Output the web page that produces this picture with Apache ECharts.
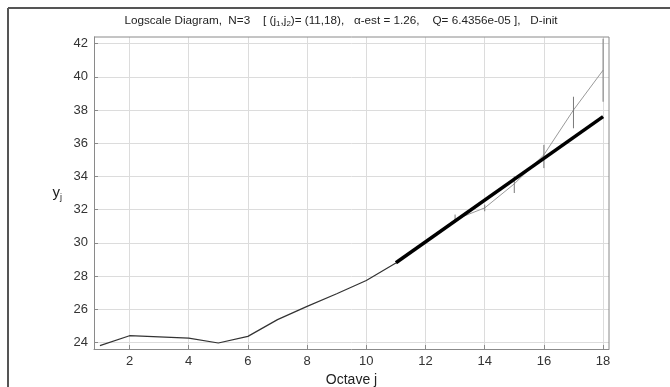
<!DOCTYPE html>
<html><head><meta charset="utf-8">
<script src="https://cdn.jsdelivr.net/npm/echarts@6/dist/echarts.min.js"></script>
<style>html,body{margin:0;padding:0;background:#fff}#c{width:670px;height:387px}</style>
</head><body><div id="c"></div>
<script>
var octaves = [1,2,3,4,5,6,7,8,9,10,11,12,13,14,15,16,17,18];
var yj = [23.8,24.4,24.33,24.26,23.96,24.36,25.37,26.17,26.93,27.73,28.78,30.1,31.4,32.1,33.55,35.3,38.0,40.4];
var errLow = [null,null,null,null,null,null,null,null,null,null,null,null,31.2,31.9,33.0,34.5,36.9,38.5];
var errHigh = [null,null,null,null,null,null,null,null,null,null,null,null,31.7,32.3,34.0,35.9,38.8,42.3];
var fitJ = [11,18];
var fitY = [28.8,37.6];
var xTicks = [2,4,6,8,10,12,14,16,18];
var yTicks = [24,26,28,30,32,34,36,38,40,42];

var darkPart = [], lightPart = [], errData = [];
for (var i=0;i<octaves.length;i++){
  if (octaves[i] <= 11) darkPart.push([octaves[i], yj[i]]);
  if (octaves[i] >= 11) lightPart.push([octaves[i], yj[i]]);
  if (errLow[i] != null) errData.push([octaves[i], errLow[i], errHigh[i]]);
}
var fitData = fitJ.map(function(j,k){return [j, fitY[k]];});

var chart = echarts.init(document.getElementById('c'));
var axisCommon = {
  axisLine:{show:true,onZero:false,lineStyle:{color:'#8a8a8a',width:1}},
  axisTick:{show:true,inside:true,length:4,lineStyle:{color:'#8a8a8a'}},
  splitLine:{show:true,lineStyle:{color:'#dcdcdc',width:1}},
  axisLabel:{color:'#333',fontFamily:'Liberation Sans, Arial',fontSize:13}
};
chart.setOption({
  animation:false,
  backgroundColor:'#fff',
  title:{
    text:'Logscale Diagram,  N=3    [ (j{s|1},j{s|2})= (11,18),   α-est = 1.26,    Q= 6.4356e-05 ],   D-init',
    left:336, top:9, textAlign:'center',
    textStyle:{fontFamily:'Liberation Sans, Arial',fontSize:11.7,fontWeight:'normal',color:'#222',
      rich:{s:{fontSize:8,verticalAlign:'bottom',padding:[6,0,0,0],color:'#222',fontFamily:'Liberation Sans, Arial'}}}
  },
  grid:{left:94,right:61,top:37,bottom:38,containLabel:false,outerBoundsMode:'none'},
  xAxis:Object.assign({}, axisCommon, {
    type:'value', min:0.8, max:18.2,
    name:'Octave j', nameLocation:'middle', nameGap:21,
    nameTextStyle:{fontFamily:'Liberation Sans, Arial',fontSize:14,color:'#222'},
    axisTick:Object.assign({}, axisCommon.axisTick, {customValues:xTicks}),
    axisLabel:Object.assign({}, axisCommon.axisLabel, {customValues:xTicks, margin:6})
  }),
  yAxis:Object.assign({}, axisCommon, {
    type:'value', min:23.6, max:42.4,
    name:'y{s|j}', nameLocation:'middle', nameGap:32, nameRotate:0,
    nameTextStyle:{fontFamily:'Liberation Sans, Arial',fontSize:15,color:'#222',
      rich:{s:{fontSize:9,verticalAlign:'bottom',padding:[9,0,0,0],fontFamily:'Liberation Sans, Arial',color:'#222'}}},
    axisTick:Object.assign({}, axisCommon.axisTick, {customValues:yTicks}),
    axisLabel:Object.assign({}, axisCommon.axisLabel, {customValues:yTicks, margin:6})
  }),
  graphic:[
    {type:'line',shape:{x1:8,y1:8,x2:670,y2:8},style:{stroke:'#555',lineWidth:2},z:100},
    {type:'line',shape:{x1:8,y1:8,x2:8,y2:387},style:{stroke:'#555',lineWidth:2},z:100},
    {type:'line',shape:{x1:609,y1:37,x2:609,y2:349},style:{stroke:'#8a8a8a',lineWidth:1},z:100},
    {type:'line',shape:{x1:94,y1:37,x2:609,y2:37},style:{stroke:'#8a8a8a',lineWidth:1},z:100}
  ],
  series:[
    {type:'line',data:lightPart,symbol:'none',lineStyle:{color:'#9a9a9a',width:1},z:2},
    {type:'custom',data:errData,z:3,
      renderItem:function(params,api){
        var p1 = api.coord([api.value(0), api.value(1)]);
        var p2 = api.coord([api.value(0), api.value(2)]);
        return {type:'line',shape:{x1:p1[0],y1:p1[1],x2:p2[0],y2:p2[1]},style:{stroke:'#7a7a7a',lineWidth:1}};
      }},
    {type:'line',data:darkPart,symbol:'none',lineStyle:{color:'#333',width:1.2},z:4},
    {type:'line',data:fitData,symbol:'none',lineStyle:{color:'#000',width:3.5},z:5}
  ]
});
</script></body></html>
